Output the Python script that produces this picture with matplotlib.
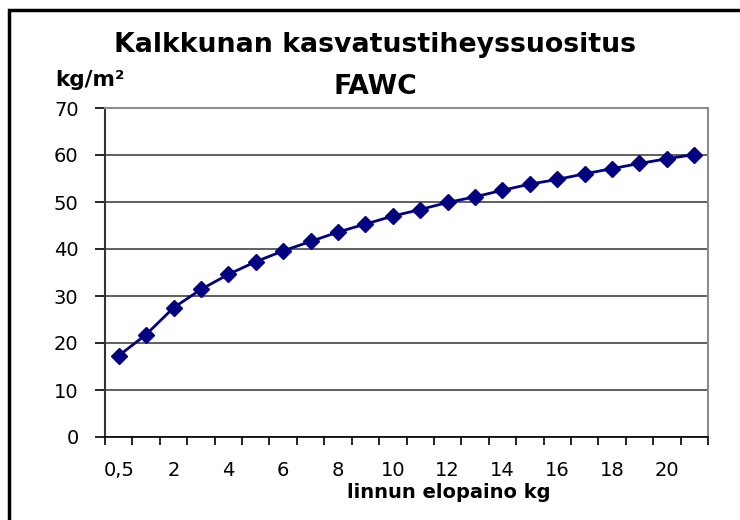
import matplotlib
matplotlib.use("Agg")
import matplotlib.pyplot as plt
from matplotlib.patches import Rectangle

# live weight categories (kg) and recommended max stocking density (kg/m²)
weights = ["0,5"] + [str(i) for i in range(1, 22)]
density = [17.3, 21.8, 27.5, 31.4, 34.6, 37.3, 39.6, 41.6, 43.6, 45.3, 47.0,
           48.4, 49.9, 51.1, 52.5, 53.8, 54.8, 56.0, 57.1, 58.2, 59.2, 60.1]
y_ticks = [0, 10, 20, 30, 40, 50, 60, 70]

plt.rcParams["font.family"] = "DejaVu Sans"

fig = plt.figure(figsize=(7.4, 5.2), dpi=100)
ax = fig.add_axes([105 / 740, 1 - 437 / 520, 603 / 740, 329 / 520])

x = list(range(len(weights)))
ax.plot(x, density, color="#000080", lw=2, marker="D", markersize=8.5, zorder=3)

ax.set_xlim(-0.5, len(weights) - 0.5)
ax.set_ylim(0, 70)
ax.set_yticks(y_ticks)
ax.set_yticklabels([str(v) for v in y_ticks], fontsize=14)
ax.yaxis.grid(True, color="#444444", lw=1.2)
ax.set_axisbelow(True)

# labels on every second category, tick marks between categories
ax.set_xticks(x[::2])
ax.set_xticklabels(weights[::2], fontsize=14)
ax.set_xticks([i - 0.5 for i in range(len(weights) + 1)], minor=True)
ax.tick_params(axis="x", which="major", length=0, pad=17)
ax.tick_params(axis="x", which="minor", length=6, width=1.2, color="black", direction="out")
ax.tick_params(axis="y", length=7, width=1.2, color="black", direction="out", pad=12)

for side in ["top", "right"]:
    ax.spines[side].set_color("#8c8c8c")
    ax.spines[side].set_linewidth(1.5)
ax.spines["left"].set_color("#333333")
ax.spines["left"].set_linewidth(1.5)
ax.spines["bottom"].set_color("black")
ax.spines["bottom"].set_linewidth(1.2)

fig.text(375 / 740, 1 - 45 / 520, "Kalkkunan kasvatustiheyssuositus", ha="center", va="center",
         fontsize=19.3, fontweight="bold")
fig.text(375 / 740, 1 - 87 / 520, "FAWC", ha="center", va="center",
         fontsize=19.3, fontweight="bold")
fig.text(90 / 740, 1 - 80 / 520, "kg/m²", ha="center", va="center",
         fontsize=15.5, fontweight="bold")
fig.text(449 / 740, 1 - 493 / 520, "linnun elopaino kg", ha="center", va="center",
         fontsize=14, fontweight="bold")

# outer chart frame, cut off at the right and bottom
fig.patches.append(Rectangle((9 / 740, -0.1), 1.2, 1.1 - 10 / 520, transform=fig.transFigure,
                             fill=False, ec="black", lw=2.5))

fig.savefig("out.png", dpi=100)
